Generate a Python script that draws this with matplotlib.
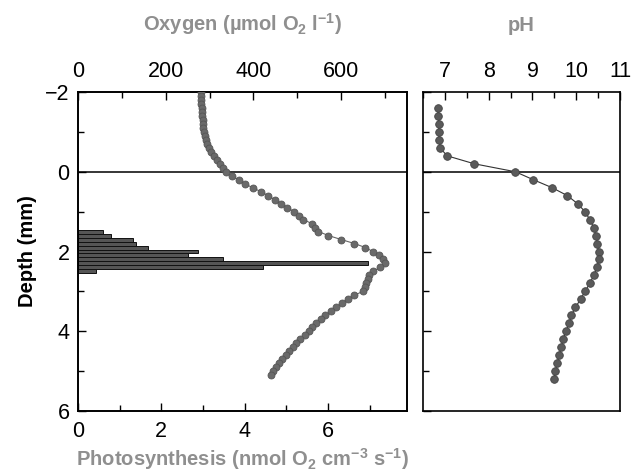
import matplotlib
matplotlib.use("Agg")
import matplotlib.pyplot as plt
from matplotlib.ticker import MultipleLocator
import numpy as np

plt.rcParams['font.family'] = ['Liberation Sans', 'DejaVu Sans']
plt.rcParams['mathtext.fontset'] = 'custom'
plt.rcParams['mathtext.rm'] = 'Liberation Sans'
plt.rcParams['mathtext.bf'] = 'Liberation Sans:bold'
plt.rcParams['mathtext.default'] = 'bf'

# Photosynthesis bars
ps_depth = [1.5, 1.6, 1.7, 1.8, 1.9, 2.0, 2.1, 2.2, 2.3, 2.4, 2.5]
ps_rate = [0.61, 0.79, 1.32, 1.40, 1.67, 2.88, 2.63, 3.49, 6.96, 4.45, 0.43]

# Oxygen profile
o2_depth = [-2.0, -1.9, -1.8, -1.7, -1.6, -1.5, -1.4, -1.3, -1.2, -1.1, -1.0,
            -0.9, -0.8, -0.7, -0.6, -0.5, -0.4, -0.3, -0.2, -0.1,
            0.0, 0.1, 0.2, 0.3, 0.4, 0.5, 0.6, 0.7, 0.8, 0.9,
            1.0, 1.1, 1.2, 1.3, 1.4, 1.5, 1.6, 1.7, 1.8, 1.9,
            2.0, 2.1, 2.2, 2.3, 2.4, 2.5, 2.6, 2.7, 2.8, 2.9,
            3.0, 3.1, 3.2, 3.3, 3.4, 3.5, 3.6, 3.7, 3.8, 3.9,
            4.0, 4.1, 4.2, 4.3, 4.4, 4.5, 4.6, 4.7, 4.8, 4.9,
            5.0, 5.1]
o2_conc = [281, 281, 281, 281, 282, 282, 283, 284, 285, 286, 287,
           289, 292, 295, 299, 304, 310, 316, 323, 330,
           338, 350, 366, 380, 398, 417, 434, 448, 463, 477,
           493, 503, 514, 533, 540, 548, 571, 600, 630, 655,
           672, 686, 695, 700, 688, 673, 664, 660, 657, 654,
           649, 630, 615, 601, 588, 577, 564, 553, 543, 534,
           526, 517, 507, 498, 490, 481, 474, 466, 458, 451,
           445, 440]

# pH profile
ph_depth = [-1.6, -1.4, -1.2, -1.0, -0.8, -0.6, -0.4, -0.2, 0.0, 0.2,
            0.4, 0.6, 0.8, 1.0, 1.2, 1.4, 1.6, 1.8, 2.0, 2.2,
            2.4, 2.6, 2.8, 3.0, 3.2, 3.4, 3.6, 3.8, 4.0, 4.2,
            4.4, 4.6, 4.8, 5.0, 5.2]
ph_val = [6.84, 6.85, 6.86, 6.86, 6.87, 6.89, 7.05, 7.67, 8.61, 9.02,
          9.45, 9.80, 10.03, 10.20, 10.31, 10.40, 10.45, 10.48, 10.51, 10.51,
          10.48, 10.40, 10.31, 10.20, 10.10, 9.98, 9.89, 9.84, 9.77, 9.70,
          9.66, 9.61, 9.57, 9.52, 9.49]

W, H = 641, 475
fig = plt.figure(figsize=(W / 100, H / 100), dpi=100)

gray_lbl = '#8f8f8f'
fs_tick = 15.5
fs_lbl = 14.5

ax1 = fig.add_axes([78 / W, 1 - 411 / H, 329 / W, 319 / H])
ax2 = fig.add_axes([423 / W, 1 - 411 / H, 197 / W, 319 / H])

# Left panel: photosynthesis bars
ax1.barh(ps_depth, ps_rate, height=0.1, color='#555555', edgecolor='#111111', linewidth=0.7, zorder=2)
ax1.set_xlim(0, 7.9)
ax1.set_ylim(6, -2)
ax1.axhline(0, color='black', lw=1.1, zorder=1)
ax1.xaxis.set_major_locator(MultipleLocator(2))
ax1.xaxis.set_minor_locator(MultipleLocator(1))
ax1.tick_params(axis='both', which='both', direction='in', labelsize=fs_tick)
ax1.tick_params(which='major', length=6, width=1)
ax1.tick_params(which='minor', length=4, width=1)
ax1.tick_params(axis='x', which='major', pad=7)
ax1.tick_params(axis='y', which='major', pad=6)
ax1.tick_params(axis='y', right=False)
ax1.tick_params(axis='x', top=False)
ax1.set_xlabel('Photosynthesis (nmol O$_2$ cm$^{-3}$ s$^{-1}$)', color=gray_lbl,
               fontsize=fs_lbl, fontweight='bold', labelpad=3)
ax1.set_ylabel('Depth (mm)', fontsize=fs_lbl, fontweight='bold', labelpad=6)
ax1.set_yticks([-2, 0, 2, 4, 6])
ax1.set_yticklabels(['\u22122', '0', '2', '4', '6'])
ax1.yaxis.set_minor_locator(MultipleLocator(1))

# Oxygen on top axis
ax1t = ax1.twiny()
ax1t.plot(o2_conc, o2_depth, '-', color='#666666', lw=0.8, marker='o', ms=5,
          mfc='#6a6a6a', mec='#555555', mew=0.6, zorder=3)
ax1t.set_xlim(0, 750)
ax1t.set_ylim(6, -2)
ax1t.xaxis.set_major_locator(MultipleLocator(200))
ax1t.xaxis.set_minor_locator(MultipleLocator(100))
ax1t.tick_params(axis='x', which='both', direction='in', labelsize=fs_tick)
ax1t.tick_params(which='major', length=6, width=1, pad=7)
ax1t.tick_params(which='minor', length=4, width=1)
ax1t.set_xlabel('Oxygen (\u00b5mol O$_2$ l$^{-1}$)', color=gray_lbl, fontsize=fs_lbl,
                fontweight='bold', labelpad=22)

# Right panel: pH
ax2.plot(ph_val, ph_depth, '-', color='#333333', lw=0.8, marker='o', ms=5.5,
         mfc='#5a5a5a', mec='#444444', mew=0.6, zorder=3)
ax2.axhline(0, color='black', lw=1.1, zorder=1)
ax2.set_xlim(6.5, 11)
ax2.set_ylim(6, -2)
ax2.xaxis.set_major_locator(MultipleLocator(1))
ax2.xaxis.set_minor_locator(MultipleLocator(0.5))
ax2.yaxis.set_major_locator(MultipleLocator(2))
ax2.yaxis.set_minor_locator(MultipleLocator(1))
ax2.tick_params(axis='x', which='both', direction='in', top=True, bottom=False,
                labeltop=True, labelbottom=False, labelsize=fs_tick)
ax2.tick_params(axis='y', which='both', direction='in', left=True, right=False,
                labelleft=False)
ax2.tick_params(which='major', length=6, width=1)
ax2.tick_params(which='minor', length=4, width=1)
ax2.tick_params(axis='x', which='major', pad=7)
ax2.xaxis.set_label_position('top')
ax2.set_xlabel('pH', color=gray_lbl, fontsize=fs_lbl, fontweight='bold', labelpad=22)

for ax in (ax1, ax1t, ax2):
    for sp in ax.spines.values():
        sp.set_linewidth(1.2)

fig.savefig('out.png', dpi=100)
